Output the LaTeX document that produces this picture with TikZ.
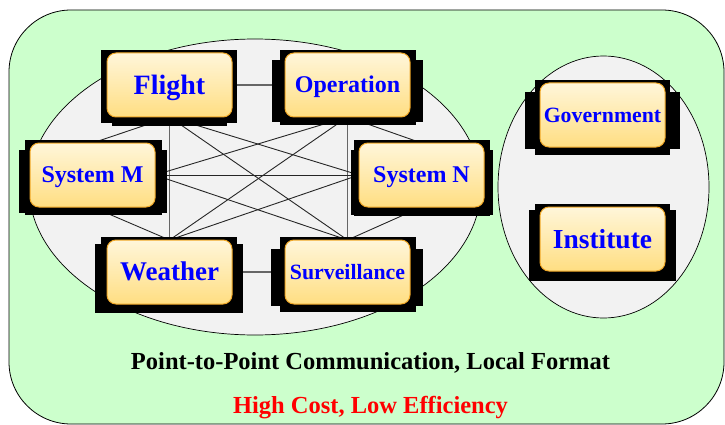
\documentclass[tikz,border=0pt]{standalone}
\usepackage{fontspec}
\setmainfont{Liberation Serif}
\usetikzlibrary{calc}

\pgfdeclarelayer{back}
\pgfdeclarelayer{wires}
\pgfdeclarelayer{frames}
\pgfsetlayers{back,wires,frames,main}

\definecolor{panelgreen}{RGB}{204,255,204}
\definecolor{ovalgray}{RGB}{242,242,242}
\definecolor{boxtop}{RGB}{255,246,218}
\definecolor{boxbot}{RGB}{255,222,130}
\definecolor{boxedge}{RGB}{240,168,40}
\definecolor{labelblue}{RGB}{0,0,255}

\tikzset{
  % text sized #1 pt, centred on its capital letters
  capfont/.style={font=\bfseries\fontsize{#1}{#1}\selectfont,
    text height=0.66*#1pt, text depth=0pt},
  unit/.style={rectangle, rounded corners=9pt, minimum width=125pt,
    minimum height=64pt, inner sep=0pt, outer sep=0pt, draw=boxedge,
    line width=1pt, top color=boxtop, bottom color=boxbot, text=labelblue,
    capfont=#1},
  wire/.style={draw=black!85, line width=0.9pt},
  straightwire/.style={draw=black!60, line width=1.1pt},
  caption/.style={capfont=24.5, inner sep=0pt},
}

% black backing of a unit: two overlapping rectangles offset from its corners
\newcommand\blockframe[9]{%
  \fill ($(#1.north west)+(#2,#4)$) rectangle ($(#1.south east)+(#3,#5)$);
  \fill ($(#1.north west)+(#6,#8)$) rectangle ($(#1.south east)+(#7,#9)$);}

\begin{document}
\begin{tikzpicture}[x=1pt,y=-1pt]
\useasboundingbox (0,0) rectangle (725,425);

\begin{pgfonlayer}{back}
  \filldraw[fill=panelgreen, draw=black, line width=0.8pt, rounded corners=62pt]
    (9,10) rectangle (724,424);
  \filldraw[fill=ovalgray, draw=black, line width=0.7pt]
    (255,187) ellipse [x radius=226, y radius=148];
  \filldraw[fill=ovalgray, draw=black, line width=0.7pt]
    (603.5,187) ellipse [x radius=105.5, y radius=131];
\end{pgfonlayer}

% units
\node[unit=28] (flight) at (169.5,85) {Flight};
\node[unit=24] (operation) at (347.5,85) {Operation};
\node[unit=24] (sysm) at (92.5,175) {System M};
\node[unit=24] (sysn) at (421.5,175) {System N};
\node[unit=27] (weather) at (169.5,272) {Weather};
\node[unit=21.8] (surv) at (347.5,272) {Surveillance};
\node[unit=21.8] (gov) at (602.5,115) {Government};
\node[unit=27.5] (inst) at (602.5,239) {Institute};

\begin{pgfonlayer}{frames}
  \blockframe{flight}{-6}{5}{-3}{6}{5}{-5}{-3}{9}
  \blockframe{operation}{-5}{6}{-3}{8}{-13}{13}{7}{5}
  \blockframe{sysm}{-5}{7}{-3}{8}{-11}{12}{7}{6}
  \blockframe{sysn}{-5}{6}{-3}{9}{-8}{9}{7}{8}
  \blockframe{weather}{-6}{5}{-3}{9}{-12}{11}{4}{9}
  \blockframe{surv}{-5}{6}{-3}{8}{-14}{13}{9}{2}
  \blockframe{gov}{-5}{5}{-3}{8}{-15}{15}{9}{2}
  \blockframe{inst}{-5}{5}{-3}{10}{-11}{11}{3}{10}
\end{pgfonlayer}

% point-to-point links
\begin{pgfonlayer}{wires}
  \draw[straightwire] (flight.east) -- (operation.west);
  \draw[straightwire] (weather.east) -- (surv.west);
  \draw[straightwire] (flight.south) -- (weather.north);
  \draw[straightwire] (operation.south) -- (surv.north);
  \draw[wire] (sysm.east) -- (sysn.west);
  \draw[wire] (flight.south) -- (sysm.north);
  \draw[wire] (flight.south) -- (sysn.west);
  \draw[wire] (flight.south) -- (surv.north);
  \draw[wire] (operation.south) -- (sysm.east);
  \draw[wire] (operation.south) -- (sysn.north);
  \draw[wire] (operation.south) -- (weather.north);
  \draw[wire] (sysm.east) -- (surv.north);
  \draw[wire] (sysm.south) -- (weather.north);
  \draw[wire] (sysn.west) -- (weather.north);
  \draw[wire] (sysn.south) -- (surv.north);
\end{pgfonlayer}

\node[caption] (mode) at (370.5,361) {Point-to-Point Communication, Local Format};
\node[caption, text=red] (verdict) at (370.5,405) {High Cost, Low Efficiency};
\end{tikzpicture}
\end{document}
